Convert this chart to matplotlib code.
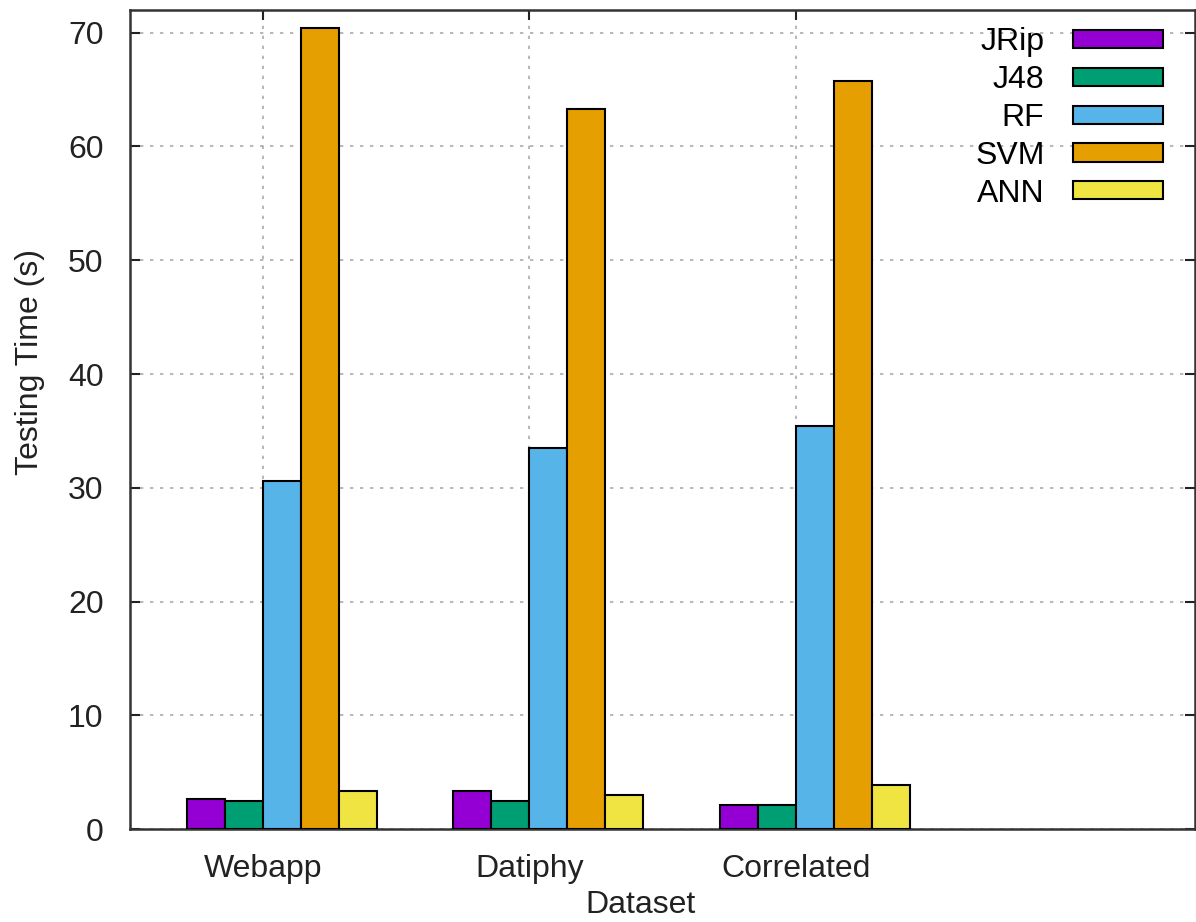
import numpy as np
import matplotlib.pyplot as plt

plt.rcParams['font.family'] = ['Liberation Sans', 'DejaVu Sans']

datasets = ["Webapp", "Datiphy", "Correlated"]
methods = ["JRip", "J48", "RF", "SVM", "ANN"]
colors = ["#9400d3", "#009e73", "#56b4e9", "#e69f00", "#f0e442"]

# testing time (s) per method, one value per dataset
jrip = [2.6, 3.3, 2.1]
j48 = [2.5, 2.5, 2.1]
rf = [30.6, 33.5, 35.4]
svm = [70.4, 63.3, 65.8]
ann = [3.3, 3.0, 3.9]
series = [jrip, j48, rf, svm, ann]

fig = plt.figure(figsize=(11.96, 9.22), dpi=100)
ax = fig.add_axes([130/1196, 1 - 829/922, 1065/1196, 819/922])

x = np.arange(len(datasets))
w = 1.0 / 7  # gnuplot histogram, gap 2
for i, (vals, name, c) in enumerate(zip(series, methods, colors)):
  ax.bar(x + (i - 2) * w, vals, width=w, align="edge", color=c,
         edgecolor="black", linewidth=1.5, label=name, zorder=3)

ax.set_xlim(-0.5, 3.5)
ax.set_ylim(0, 72)
ax.set_yticks(np.arange(0, 71, 10))
ax.set_xticks(x)
ax.set_xticklabels(datasets)
ax.tick_params(axis="both", direction="in", labelsize=23, length=7, width=1.5,
               top=True, right=True, colors="#222222", labelcolor="#222222")
ax.tick_params(axis="x", pad=18)
ax.tick_params(axis="y", pad=19)
ax.grid(True, linestyle=(0, (2, 4)), color="#aaaaaa", linewidth=1.2, zorder=0)
for s in ax.spines.values():
  s.set_linewidth(1.8)
  s.set_color("#333333")

ax.set_ylabel("Testing Time (s)", fontsize=23, color="#222222")
ax.yaxis.set_label_coords(-0.08, 0.57)
ax.set_xlabel("Dataset", fontsize=23, color="#222222")
ax.xaxis.set_label_coords(0.479, -0.075)

leg = ax.legend(loc="upper right", bbox_to_anchor=(1 - 10/1065, 1 + 5/819),
                markerfirst=False, frameon=False, fontsize=23,
                handlelength=2.8, handleheight=0.5, labelspacing=0.245,
                handletextpad=0.9, borderaxespad=0.3, borderpad=0.4)

fig.savefig("out.png", dpi=100)
